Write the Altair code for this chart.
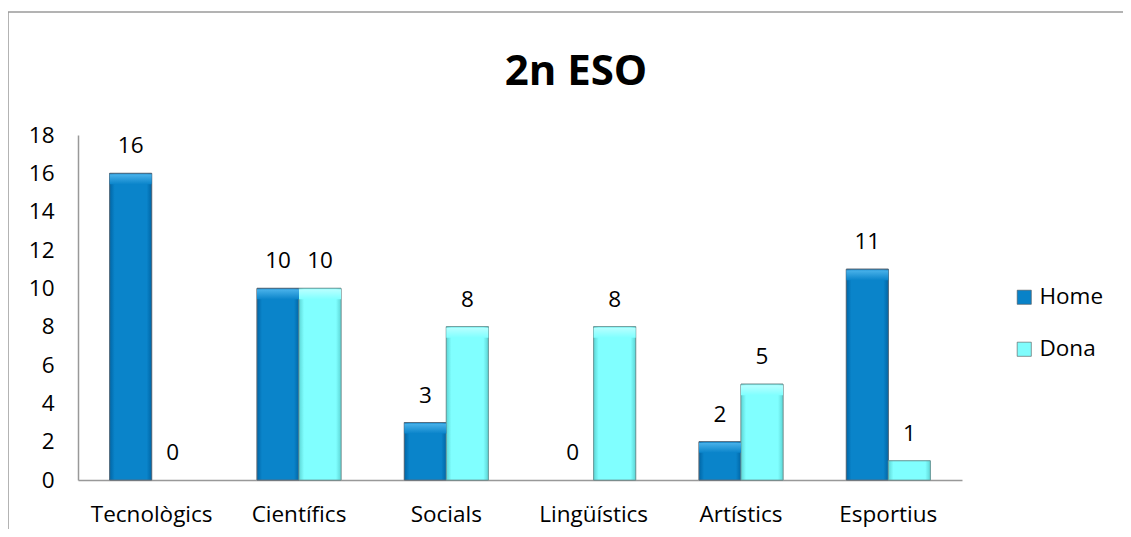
import altair as alt
import pandas as pd

categories = ["Tecnològics", "Científics", "Socials", "Lingüístics", "Artístics", "Esportius"]
home = [16, 10, 3, 0, 2, 11]
dona = [0, 10, 8, 8, 5, 1]
series = ["Home", "Dona"]
colors = ["#0882C8", "#7FFCFC"]
title_text = "2n ESO"
y_ticks = [0, 2, 4, 6, 8, 10, 12, 14, 16, 18]

rows = []
for c, h, d in zip(categories, home, dona):
    rows.append({"cat": c, "serie": "Home", "val": h})
    rows.append({"cat": c, "serie": "Dona", "val": d})
df = pd.DataFrame(rows)

FONT = "Open Sans"
FS = 22.5

x_enc = alt.X("cat:N", sort=categories, title=None,
              scale=alt.Scale(paddingInner=0.43, paddingOuter=0.215),
              axis=alt.Axis(labelAngle=0, labelFontSize=FS, labelFont=FONT, labelColor="#000",
                            labelPadding=23, ticks=False, domainColor="#999", domainWidth=1.5))
xo_enc = alt.XOffset("serie:N", sort=series, scale=alt.Scale(paddingInner=0, paddingOuter=0))
y_enc = alt.Y("val:Q", title=None,
              scale=alt.Scale(domain=[0, 18], nice=False),
              axis=alt.Axis(values=y_ticks, grid=False, ticks=False, labelFontSize=FS, labelFont=FONT,
                            labelColor="#000", labelPadding=24, domainColor="#999", domainWidth=1.5))

base = alt.Chart(df)
nonzero = alt.datum.val > 0

bars = base.mark_bar(stroke="#6a6a6a", strokeWidth=0.8).encode(
    x=x_enc, xOffset=xo_enc, y=y_enc,
    color=alt.Color("serie:N", sort=series,
                    scale=alt.Scale(domain=series, range=colors),
                    legend=alt.Legend(title=None, orient="none", legendX=935, legendY=151,
                                      symbolType="square", symbolSize=200, symbolStrokeColor="#555",
                                      symbolStrokeWidth=0.6, labelFontSize=FS, labelFont=FONT,
                                      labelColor="#000", rowPadding=29, symbolOpacity=1)),
).transform_filter(nonzero)

grad_home = {"gradient": "linear", "x1": 0, "x2": 1, "y1": 0, "y2": 0,
             "stops": [{"offset": 0, "color": "#0066A6"}, {"offset": 0.12, "color": "#0A84CA"},
                       {"offset": 0.88, "color": "#0A84CA"}, {"offset": 1, "color": "#0066A6"}]}
grad_dona = {"gradient": "linear", "x1": 0, "x2": 1, "y1": 0, "y2": 0,
             "stops": [{"offset": 0, "color": "#5CD6D6"}, {"offset": 0.12, "color": "#80FFFF"},
                       {"offset": 0.88, "color": "#80FFFF"}, {"offset": 1, "color": "#5CD6D6"}]}
top_home = {"gradient": "linear", "x1": 0, "x2": 0, "y1": 0, "y2": 1,
            "stops": [{"offset": 0, "color": "#4AB2EA"}, {"offset": 1, "color": "#0A84CA"}]}
top_dona = {"gradient": "linear", "x1": 0, "x2": 0, "y1": 0, "y2": 1,
            "stops": [{"offset": 0, "color": "#B8FFFF"}, {"offset": 1, "color": "#80FFFF"}]}

bars_home = base.mark_bar(fill=grad_home, stroke="#5a6a78", strokeWidth=0.8).encode(
    x=x_enc, xOffset=xo_enc, y=y_enc).transform_filter(alt.datum.serie == "Home").transform_filter(nonzero)
bars_dona = base.mark_bar(fill=grad_dona, stroke="#6a9a9a", strokeWidth=0.8).encode(
    x=x_enc, xOffset=xo_enc, y=y_enc).transform_filter(alt.datum.serie == "Dona").transform_filter(nonzero)

hl_home = base.mark_bar(fill=top_home, y2Offset=11, xOffset=1, x2Offset=-1, yOffset=1).encode(
    x=x_enc, xOffset=xo_enc, y=y_enc, y2="val:Q").transform_filter(
    alt.datum.serie == "Home").transform_filter(alt.datum.val > 1)
hl_dona = base.mark_bar(fill=top_dona, y2Offset=11, xOffset=1, x2Offset=-1, yOffset=1).encode(
    x=x_enc, xOffset=xo_enc, y=y_enc, y2="val:Q").transform_filter(
    alt.datum.serie == "Dona").transform_filter(alt.datum.val > 1)

labels = base.mark_text(dy=-27, fontSize=FS, font=FONT, color="#000", baseline="middle").encode(
    x=x_enc, xOffset=xo_enc, y=y_enc, text=alt.Text("val:Q"))

one = alt.Data(values=[{"t": title_text}])
frame = alt.Chart(one).mark_rect(fill="transparent", stroke="#9a9a9a", strokeWidth=1.5).encode(
    x=alt.value(-70), x2=alt.value(1200), y=alt.value(-123), y2=alt.value(700))
title = alt.Chart(one).mark_text(fontSize=42, font=FONT, fontWeight="bold", color="#000",
                                 baseline="middle", align="center").encode(
    x=alt.value(498), y=alt.value(-63), text="t:N")

chart = alt.layer(frame, title, bars, bars_home, bars_dona, hl_home, hl_dona, labels).properties(
    width=884, height=345,
    autosize=alt.AutoSizeParams(type="none"),
    padding={"left": 70, "top": 127, "right": 161, "bottom": 49},
).configure_view(stroke=None)

chart.save("out.html", embed_options={"renderer": "svg", "actions": False})
